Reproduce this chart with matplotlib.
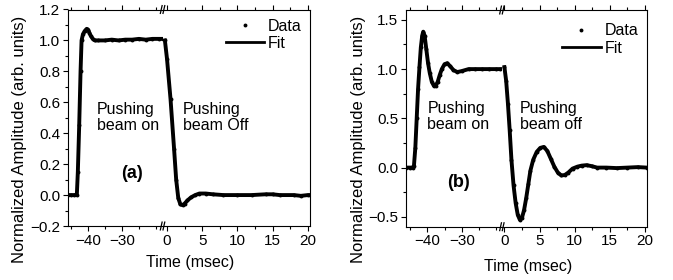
import matplotlib
matplotlib.use("Agg")
import matplotlib.pyplot as plt
from matplotlib.ticker import MultipleLocator
from matplotlib.lines import Line2D

plt.rcParams['font.family'] = ['Liberation Sans', 'DejaVu Sans']
plt.rcParams['font.size'] = 11

# (a) pushing beam on
t_a_on = [-46, -45, -44, -43.3, -43.0, -42.6, -42.2, -41.9, -41.5, -41.0, -40.4, -40.0,
          -39.6, -39.2, -38.6, -38.0, -37, -35, -33, -31, -29, -27, -25, -23, -21, -19, -18.0]
y_a_on = [0.0, 0.0, 0.0, 0.0, 0.15, 0.45, 0.8, 1.0, 1.04, 1.06, 1.075, 1.07,
          1.05, 1.03, 1.01, 1.0, 1.0, 1.0, 1.005, 1.0, 1.005, 1.005, 1.01, 1.005, 1.01, 1.01, 1.01]
# (a) pushing beam off
t_a_off = [-0.3, 0.0, 0.5, 1.0, 1.3, 1.6, 1.9, 2.2, 2.5, 2.9, 3.4, 4.0, 4.6, 5.5, 6.5,
           8, 10, 12, 14, 15, 16, 18, 19, 20, 20.3]
y_a_off = [1.0, 0.88, 0.62, 0.3, 0.1, -0.02, -0.06, -0.065, -0.055, -0.035, -0.015, 0.0, 0.01, 0.01, 0.005,
           0.0, 0.0, 0.0, 0.005, 0.005, 0.0, 0.0, -0.005, 0.0, 0.0]

# (b) pushing beam on
t_b_on = [-46.3, -45, -44.3, -43.9, -43.5, -43.1, -42.7, -42.3, -41.9, -41.5, -41.2, -40.8,
          -40.3, -39.8, -39.3, -38.7, -38.1, -37.6, -37.0, -36.4, -35.8, -35.0, -34.2, -33.4,
          -32.4, -31.3, -30, -28, -26, -24, -22, -20, -18.8]
y_b_on = [0.0, 0.0, 0.0, 0.02, 0.2, 0.5, 0.8, 1.02, 1.22, 1.34, 1.38, 1.34,
          1.2, 1.06, 0.96, 0.87, 0.83, 0.83, 0.87, 0.94, 1.0, 1.05, 1.06, 1.03,
          0.99, 0.97, 0.98, 1.0, 1.0, 1.0, 1.0, 1.0, 1.0]
# (b) pushing beam off
t_b_off = [0.0, 0.25, 0.5, 0.75, 1.0, 1.3, 1.6, 1.9, 2.2, 2.5, 2.8, 3.1, 3.4, 3.7, 4.1,
           4.6, 5.1, 5.6, 6.1, 6.6, 7.1, 7.6, 8.1, 8.6, 9.1, 9.7, 10.4, 11.0, 11.7, 12.4,
           13.2, 14.5, 16, 17.5, 19, 20.25]
y_b_off = [1.02, 0.88, 0.65, 0.38, 0.08, -0.18, -0.36, -0.48, -0.53, -0.51, -0.43, -0.31, -0.17, -0.03, 0.08,
           0.16, 0.2, 0.21, 0.17, 0.09, 0.01, -0.05, -0.08, -0.075, -0.05, -0.01, 0.01, 0.02, 0.025, 0.015,
           0.0, 0.0, -0.005, 0.0, 0.005, 0.0]

fig = plt.figure(figsize=(6.73, 2.8), dpi=100)


def break_mark(ax, x):
    # little "//" on top and bottom of the axis
    for y0 in (0, 1):
        for dx in (-0.012, 0.006):
            ax.plot([x + dx - 0.006, x + dx + 0.006], [y0 - 0.018, y0 + 0.018],
                    transform=ax.transAxes, color='k', lw=0.9, clip_on=False)


def panel(rect1, rect2, lim1, lim2, ylim, ymaj, ymin,
          t_on, y_on, t_off, y_off, tag, tag_xy, off_txt, on_xy, off_xy, leg_anchor, ylab_x, xlab_xy):
    ax1 = fig.add_axes(rect1)
    ax2 = fig.add_axes(rect2)
    for ax, t, y in ((ax1, t_on, y_on), (ax2, t_off, y_off)):
        ax.plot(t, y, 'o', color='k', ms=2.8, mew=0)
        ax.plot(t, y, '-', color='k', lw=2.8)
        ax.set_ylim(ylim)
        ax.tick_params(which='both', direction='out', top=True, right=False, labelsize=11, width=0.8, pad=2)
        ax.tick_params(which='major', length=3.5)
        ax.tick_params(which='minor', length=2)
        for s in ax.spines.values():
            s.set_linewidth(0.8)
    ax1.set_xlim(lim1)
    ax2.set_xlim(lim2)
    ax1.xaxis.set_major_locator(MultipleLocator(10))
    ax1.xaxis.set_minor_locator(MultipleLocator(5))
    ax2.xaxis.set_major_locator(MultipleLocator(5))
    ax2.xaxis.set_minor_locator(MultipleLocator(2.5))
    ax1.yaxis.set_major_locator(MultipleLocator(ymaj))
    ax1.yaxis.set_minor_locator(MultipleLocator(ymin))
    ax1.set_xticks([-40, -30])
    ax1.spines['right'].set_visible(False)
    ax2.spines['left'].set_visible(False)
    ax2.tick_params(which='both', left=False, labelleft=False)
    break_mark(ax2, 0)

    ax1.text(on_xy[0], on_xy[1], "Pushing\nbeam on", ha='left', va='center', fontsize=11.5, linespacing=1.1)
    ax2.text(off_xy[0], off_xy[1], off_txt, ha='left', va='center', fontsize=11.5, linespacing=1.1)
    ax1.text(tag_xy[0], tag_xy[1], tag, ha='center', va='center', fontsize=13, fontweight='bold')

    hs = [Line2D([], [], marker='o', ls='none', color='k', ms=2.8, mew=0),
          Line2D([], [], color='k', lw=2)]
    ax2.legend(hs, ["Data", "Fit"], loc='upper right', bbox_to_anchor=leg_anchor, frameon=False,
               fontsize=11.5, handlelength=2.4, handletextpad=0.25, labelspacing=0.15, borderpad=0.2)

    fig.text(ylab_x, 141/280, "Normalized Amplitude (arb. units)", rotation=90,
             ha='left', va='center', fontsize=12)
    fig.text(xlab_xy[0], xlab_xy[1], "Time (msec)", ha='center', va='bottom', fontsize=11.5)
    return ax1, ax2


#(a)
panel([68/673, 54/280, 95/673, 216.5/280], [163/673, 54/280, 147/673, 216.5/280],
      (-45.9, -17.9), (-0.57, 20.3), (-0.2, 1.2), 0.2, 0.1,
      t_a_on, y_a_on, t_a_off, y_a_off, "(a)", (-27, 0.14), "Pushing\nbeam Off",
      (-37.4, 0.5), (2.3, 0.5), (1.02, 1.01), 12/673, (190/673, 10/280))

#(b)
panel([405.7/673, 53.3/280, 96.6/673, 216.7/280], [502.3/673, 53.3/280, 144.4/673, 216.7/280],
      (-46.3, -18.2), (-0.3, 20.25), (-0.6, 1.6), 0.5, 0.25,
      t_b_on, y_b_on, t_b_off, y_b_off, "(b)", (-30.8, -0.15), "Pushing\nbeam off",
      (-40.0, 0.52), (2.2, 0.52), (1.02, 0.99), 351/673, (528/673, 6/280))

fig.savefig("out.png", dpi=100)
